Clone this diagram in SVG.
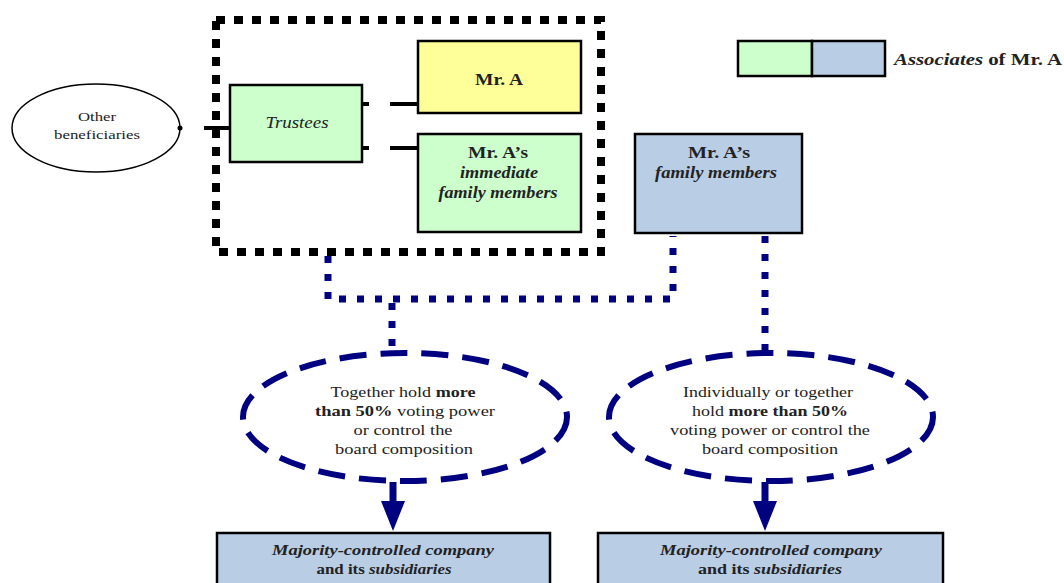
<svg xmlns="http://www.w3.org/2000/svg" width="1064" height="583" viewBox="0 0 1064 583">
<style>
  text { font-family: "Liberation Serif", "Times New Roman", serif; fill: #222; }
  .box { stroke: #000; stroke-width: 2.5; }
  .green { fill: #ccffcc; }
  .yellow { fill: #ffff99; }
  .blue { fill: #b9cde5; }
  .b { font-weight: bold; }
  .i { font-style: italic; }
  .t16 { font-size: 16px; }
  .t15 { font-size: 15px; }
  .black-dot { fill: none; stroke: #000; stroke-width: 8; stroke-dasharray: 9 9; }
  .navy-dot { fill: none; stroke: #000080; stroke-width: 7; stroke-dasharray: 7 11; }
  .navy-dash { fill: #fff; stroke: #000080; stroke-width: 6; stroke-dasharray: 27 14; }
  .link { stroke: #000; stroke-width: 4; }
</style>

<g id="connectors">
  <line class="link" x1="204" y1="128" x2="230" y2="128"/>
  <line class="link" x1="362" y1="104" x2="369" y2="104"/>
  <line class="link" x1="390" y1="104" x2="418" y2="104"/>
  <line class="link" x1="362" y1="148" x2="369" y2="148"/>
  <line class="link" x1="390" y1="148" x2="418" y2="148"/>
  <path class="navy-dot" d="M328,256 V299 H673 V236"/>
  <path class="navy-dot" d="M392,303 V353"/>
  <path class="navy-dot" d="M765,236 V352"/>
  <path d="M393,482 V503" stroke="#000080" stroke-width="7"/>
  <polygon points="381,501 405,501 393,531" fill="#000080"/>
  <path d="M765,482 V503" stroke="#000080" stroke-width="7"/>
  <polygon points="753,501 777,501 765,531" fill="#000080"/>
</g>

<g id="trust-frame">
  <rect class="black-dot" x="216" y="20" width="385" height="232"/>
</g>

<g id="other-beneficiaries">
  <ellipse cx="96" cy="128" rx="84" ry="44" fill="#fff" stroke="#000" stroke-width="1.5"/>
  <circle cx="180" cy="128" r="2.5" fill="#000"/>
  <text x="97" y="121" text-anchor="middle" font-size="13" textLength="38" lengthAdjust="spacingAndGlyphs">Other</text>
  <text x="97" y="139" text-anchor="middle" font-size="13" textLength="86" lengthAdjust="spacingAndGlyphs">beneficiaries</text>
</g>

<g id="trustees">
  <rect class="box green" x="230" y="85" width="132" height="77"/>
  <text x="297" y="128" text-anchor="middle" class="i t16" textLength="63" lengthAdjust="spacingAndGlyphs">Trustees</text>
</g>

<g id="mr-a">
  <rect class="box yellow" x="418" y="41" width="163" height="72"/>
  <text x="499" y="85" text-anchor="middle" class="b" font-size="17" textLength="48" lengthAdjust="spacingAndGlyphs">Mr. A</text>
</g>

<g id="immediate-family">
  <rect class="box green" x="418" y="134" width="163" height="98"/>
  <text x="498" y="158" text-anchor="middle" class="b t16" textLength="60" lengthAdjust="spacingAndGlyphs">Mr. A’s</text>
  <text x="499" y="178" text-anchor="middle" class="b i t16" textLength="78" lengthAdjust="spacingAndGlyphs">immediate</text>
  <text x="498" y="198" text-anchor="middle" class="b i t16" textLength="119" lengthAdjust="spacingAndGlyphs">family members</text>
</g>

<g id="family-members">
  <rect class="box blue" x="635" y="134" width="167" height="99"/>
  <text x="719" y="158" text-anchor="middle" class="b t16" textLength="62" lengthAdjust="spacingAndGlyphs">Mr. A’s</text>
  <text x="716" y="178" text-anchor="middle" class="b i t16" textLength="122" lengthAdjust="spacingAndGlyphs">family members</text>
</g>

<g id="legend">
  <rect class="box green" x="738" y="41" width="74" height="35"/>
  <rect class="box blue" x="812" y="41" width="73" height="35"/>
  <text x="894" y="65" class="b t16" textLength="168" lengthAdjust="spacingAndGlyphs"><tspan class="i">Associates</tspan> of  Mr. A</text>
</g>

<g id="cond-together">
  <ellipse class="navy-dash" cx="405" cy="417" rx="162" ry="64"/>
  <text x="403" y="397" text-anchor="middle" class="t15" textLength="145" lengthAdjust="spacingAndGlyphs">Together hold <tspan class="b">more</tspan></text>
  <text x="405" y="416" text-anchor="middle" class="t15" textLength="180" lengthAdjust="spacingAndGlyphs"><tspan class="b">than 50%</tspan> voting power</text>
  <text x="403" y="435" text-anchor="middle" class="t15" textLength="99" lengthAdjust="spacingAndGlyphs">or control the</text>
  <text x="404" y="454" text-anchor="middle" class="t15" textLength="138" lengthAdjust="spacingAndGlyphs">board composition</text>
</g>

<g id="cond-individually">
  <ellipse class="navy-dash" cx="771" cy="417" rx="162" ry="64"/>
  <text x="768" y="397" text-anchor="middle" class="t15" textLength="170" lengthAdjust="spacingAndGlyphs">Individually or together</text>
  <text x="770" y="416" text-anchor="middle" class="t15" textLength="156" lengthAdjust="spacingAndGlyphs">hold <tspan class="b">more than 50%</tspan></text>
  <text x="770" y="435" text-anchor="middle" class="t15" textLength="200" lengthAdjust="spacingAndGlyphs">voting power or control the</text>
  <text x="770" y="454" text-anchor="middle" class="t15" textLength="136" lengthAdjust="spacingAndGlyphs">board composition</text>
</g>

<g id="company-left">
  <rect class="box blue" x="217" y="533" width="333" height="60"/>
  <text x="383" y="555" text-anchor="middle" class="b i t15" textLength="222" lengthAdjust="spacingAndGlyphs">Majority-controlled company</text>
  <text x="384" y="574" text-anchor="middle" class="b t15" textLength="135" lengthAdjust="spacingAndGlyphs">and its <tspan class="i">subsidiaries</tspan></text>
</g>

<g id="company-right">
  <rect class="box blue" x="598" y="533" width="345" height="60"/>
  <text x="771" y="555" text-anchor="middle" class="b i t15" textLength="222" lengthAdjust="spacingAndGlyphs">Majority-controlled company</text>
  <text x="770" y="574" text-anchor="middle" class="b t15" textLength="144" lengthAdjust="spacingAndGlyphs">and its <tspan class="i">subsidiaries</tspan></text>
</g>
</svg>
